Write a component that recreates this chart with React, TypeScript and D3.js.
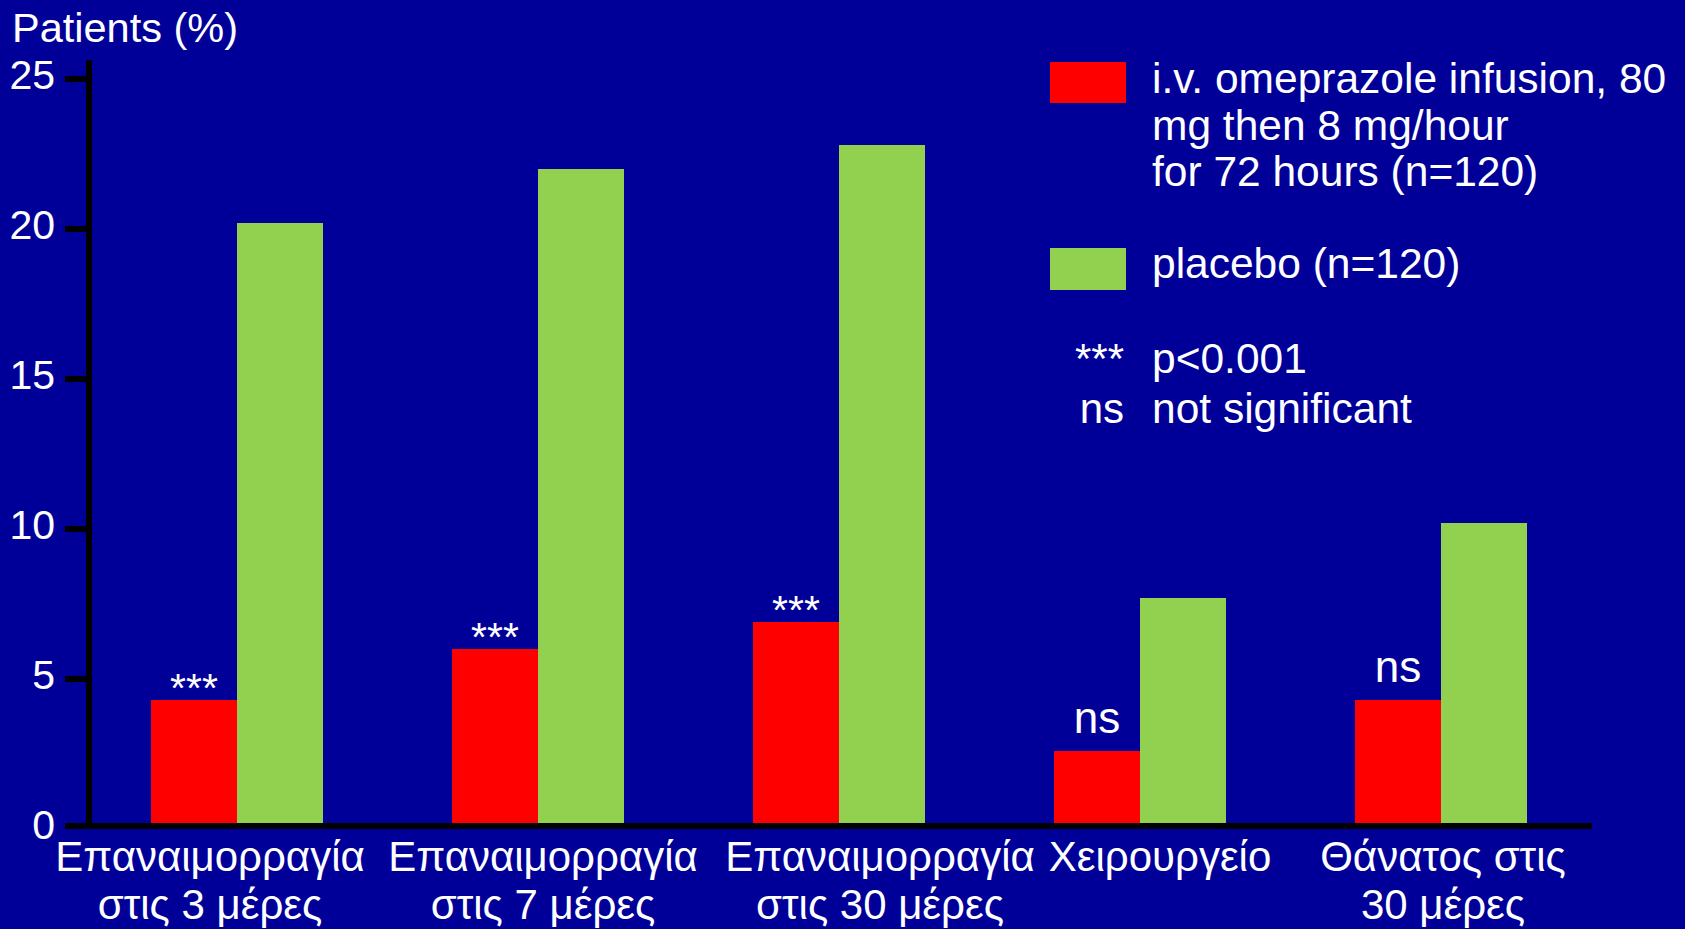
import React from "react";
import * as d3 from "d3";

// Outcome categories (two-line Greek labels)
const categories: string[][] = [
  ["Επαναιμορραγία", "στις 3 μέρες"],
  ["Επαναιμορραγία", "στις 7 μέρες"],
  ["Επαναιμορραγία", "στις 30 μέρες"],
  ["Χειρουργείο"],
  ["Θάνατος στις", "30 μέρες"],
];

// Patients (%) per outcome
const omeprazole = [4.3, 6.0, 6.9, 2.6, 4.3];
const placebo = [20.2, 22.0, 22.8, 7.7, 10.2];
const significance = ["***", "***", "***", "ns", "ns"];

const yTicks = [0, 5, 10, 15, 20, 25];

const legendOmeprazole = [
  "i.v. omeprazole infusion, 80",
  "mg then 8 mg/hour",
  "for 72 hours (n=120)",
];
const legendPlacebo = "placebo (n=120)";
const legendNotes = [
  ["***", "p<0.001"],
  ["ns", "not significant"],
];

const W = 1685;
const H = 929;
const BG = "#000099";
const RED = "#FF0000";
const GREEN = "#92D050";
const FONT = "'Liberation Sans', Arial, Helvetica, sans-serif";

// horizontal nudges of the category captions relative to each group centre
const captionShift = [-27, 5, 41, 20, 2];

export default function App() {
  const keys = categories.map((_, i) => String(i));
  const x = d3
    .scaleBand<string>()
    .domain(keys)
    .range([86.5, 1591.5])
    .paddingInner(129 / 301)
    .paddingOuter(64.5 / 301);
  const xs = d3
    .scaleBand<string>()
    .domain(["omeprazole", "placebo"])
    .range([0, x.bandwidth()]);
  const y = d3.scaleLinear().domain([0, 25]).range([829, 79]);

  const axisX = 89;
  const series = [
    { key: "omeprazole", values: omeprazole, color: RED },
    { key: "placebo", values: placebo, color: GREEN },
  ];

  return (
    <svg
      width={W}
      height={H}
      viewBox={`0 0 ${W} ${H}`}
      style={{ position: "absolute", left: 0, top: 0, display: "block" }}
      fontFamily={FONT}
    >
      <rect x={0} y={0} width={W} height={H} fill={BG} />

      {/* y-axis title */}
      <text x={12} y={42} fill="#fff" fontSize={41.5}>
        Patients (%)
      </text>

      {/* bars */}
      {series.map((s) =>
        s.values.map((v, i) => (
          <rect
            key={s.key + i}
            x={(x(keys[i]) as number) + (xs(s.key) as number)}
            y={y(v)}
            width={xs.bandwidth()}
            height={y(0) - y(v)}
            fill={s.color}
          />
        ))
      )}

      {/* significance marks above the omeprazole bars */}
      {omeprazole.map((v, i) => {
        const cx = (x(keys[i]) as number) + (xs("omeprazole") as number) + xs.bandwidth() / 2;
        const isStars = significance[i] === "***";
        return (
          <text
            key={"sig" + i}
            x={cx}
            y={isStars ? y(v) + 2 : y(v) - 18}
            fill="#fff"
            fontSize={isStars ? 41 : 44}
            textAnchor="middle"
          >
            {significance[i]}
          </text>
        );
      })}

      {/* axes */}
      <line x1={axisX} x2={axisX} y1={60} y2={829} stroke="#000" strokeWidth={6} />
      <line x1={65} x2={1592} y1={y(0) - 3} y2={y(0) - 3} stroke="#000" strokeWidth={6} />
      {yTicks.map((t) => (
        <g key={"t" + t}>
          <line
            x1={65}
            x2={axisX}
            y1={t === 0 ? y(0) - 3 : y(t)}
            y2={t === 0 ? y(0) - 3 : y(t)}
            stroke="#000"
            strokeWidth={6}
          />
          <text x={55} y={y(t) - 4} dy="0.35em" fill="#fff" fontSize={41} textAnchor="end">
            {t}
          </text>
        </g>
      ))}

      {/* category captions */}
      {categories.map((lines, i) => {
        const cx = (x(keys[i]) as number) + x.bandwidth() / 2 + captionShift[i];
        return (
          <text key={"c" + i} x={cx} y={871} fill="#fff" fontSize={42} textAnchor="middle">
            {lines.map((l, j) => (
              <tspan key={j} x={cx} dy={j === 0 ? 0 : 48}>
                {l}
              </tspan>
            ))}
          </text>
        );
      })}

      {/* legend */}
      <rect x={1050} y={62} width={76} height={41} fill={RED} />
      <text x={1152} y={93} fill="#fff" fontSize={42.5}>
        {legendOmeprazole.map((l, j) => (
          <tspan key={j} x={1152} dy={j === 0 ? 0 : 46.5}>
            {l}
          </tspan>
        ))}
      </text>
      <rect x={1050} y={248} width={76} height={42} fill={GREEN} />
      <text x={1152} y={278} fill="#fff" fontSize={42.5}>
        {legendPlacebo}
      </text>
      {legendNotes.map(([sym, desc], j) => (
        <g key={"n" + j}>
          <text x={1124} y={373 + j * 50} fill="#fff" fontSize={42} textAnchor="end">
            {sym}
          </text>
          <text x={1152} y={373 + j * 50} fill="#fff" fontSize={42.5}>
            {desc}
          </text>
        </g>
      ))}
    </svg>
  );
}
